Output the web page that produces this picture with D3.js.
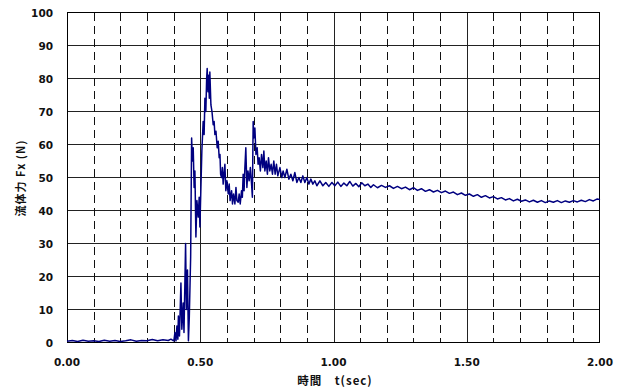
<!DOCTYPE html>
<meta charset="utf-8">
<html>
  <head>
    <style>
      body { margin: 0; background: #fff; }
      text.tick { font-family: "DejaVu Sans", sans-serif; font-size: 10.5px; font-weight: bold; fill: #111; }
      text.title { font-family: "Noto Sans CJK JP", sans-serif; font-weight: bold; fill: #111; letter-spacing: 1px; }
      line.grid { stroke: #222; stroke-width: 1; shape-rendering: crispEdges; }
      line.dash { stroke: #111; stroke-width: 1; stroke-dasharray: 8,5; shape-rendering: crispEdges; }
      path.force { fill: none; stroke: #000080; stroke-width: 1.5; stroke-linejoin: round; }
    </style>
    <script src="https://d3js.org/d3.v7.min.js"></script>
  </head>
  <body>
    <div id="chart"></div>
    <script type="text/javascript">
      // time (sec) and fluid force Fx (N)
      var times = [
        0.00, 0.02, 0.04, 0.06, 0.08, 0.10, 0.12, 0.14, 0.16, 0.18,
        0.20, 0.22, 0.24, 0.26, 0.28, 0.30, 0.32, 0.34, 0.36, 0.38,
        0.39, 0.40, 0.401, 0.405, 0.409, 0.4125, 0.416, 0.418, 0.422, 0.4275,
        0.431, 0.436, 0.439, 0.445, 0.448, 0.452, 0.4556, 0.459, 0.464, 0.4676,
        0.4706, 0.4736, 0.477, 0.48, 0.4837, 0.4875, 0.4924, 0.496, 0.4987, 0.5025,
        0.506, 0.511, 0.5145, 0.5175, 0.521, 0.524, 0.526, 0.529, 0.531, 0.534,
        0.536, 0.54, 0.544, 0.5486, 0.552, 0.555, 0.559, 0.5636, 0.5674, 0.571,
        0.574, 0.5764, 0.58, 0.583, 0.586, 0.589, 0.5925, 0.596, 0.60, 0.605,
        0.6086, 0.612, 0.6176, 0.621, 0.625, 0.63, 0.634, 0.6375, 0.6424, 0.646,
        0.65, 0.655, 0.658, 0.661, 0.6645, 0.6675, 0.671, 0.675, 0.679, 0.6836,
        0.688, 0.6926, 0.6956, 0.6986, 0.701, 0.705, 0.709, 0.7136, 0.717, 0.721,
        0.7256, 0.73, 0.735, 0.7387, 0.7425, 0.7474, 0.752, 0.756, 0.761, 0.766,
        0.771, 0.776, 0.781, 0.786, 0.791, 0.799, 0.806, 0.811, 0.8175, 0.825,
        0.8325, 0.84, 0.8475, 0.855, 0.8625, 0.87, 0.8775, 0.885, 0.8925, 0.90,
        0.9075, 0.915, 0.9225, 0.93, 0.9375, 0.949, 0.96, 0.971, 0.9825, 0.994,
        1.005, 1.016, 1.0275, 1.039, 1.05, 1.061, 1.0725, 1.084, 1.095, 1.106,
        1.1175, 1.129, 1.14, 1.15, 1.165, 1.18, 1.195, 1.21, 1.225, 1.24,
        1.255, 1.27, 1.285, 1.30, 1.315, 1.33, 1.345, 1.36, 1.375, 1.39,
        1.405, 1.42, 1.435, 1.45, 1.465, 1.48, 1.495, 1.51, 1.525, 1.54,
        1.555, 1.57, 1.585, 1.60, 1.615, 1.63, 1.645, 1.66, 1.675, 1.69,
        1.705, 1.72, 1.735, 1.75, 1.765, 1.78, 1.795, 1.81, 1.825, 1.84,
        1.855, 1.87, 1.885, 1.90, 1.915, 1.93, 1.945, 1.96, 1.975, 1.99,
        2.00
      ];
      var forces = [
        0.4, 0.6, 0.3, 0.7, 0.4, 0.5, 0.3, 0.7, 0.4, 0.6,
        0.3, 0.5, 0.8, 0.4, 0.6, 0.5, 0.9, 0.5, 0.8, 0.6,
        1.0, 0.5, 0.5, 3, 0.5, 5, 1, 8, 2, 18,
        4, 12, 3, 30, 10, 22, 0.5, 8, 26, 62,
        55, 59, 47, 52, 32, 43, 38, 44, 35, 47,
        58, 67, 63, 74, 70, 80, 83, 76, 81, 74,
        82, 72, 70, 66, 67, 63, 64, 59, 61, 56,
        57, 51, 50, 53, 48, 51, 54, 46, 49, 45,
        48, 43, 46, 42, 45, 42, 47, 43, 42.5, 45,
        42, 46, 44, 51, 46, 53, 59, 47, 52, 49,
        53, 48, 44, 67, 62, 65, 57, 59, 54, 56,
        52, 57, 53, 58, 52, 55, 51, 56, 52, 54,
        51, 55, 51, 54, 50.5, 53, 50, 52, 50, 52.5,
        49.5, 51, 49, 51.5, 48.5, 50, 48.5, 50.5, 48.5, 50,
        48, 49.5, 48, 49, 47.5, 49, 47.5, 48.5, 47.3, 48.5,
        47.5, 48.6, 47.3, 48.3, 47.5, 48.8, 47.4, 48.2, 47.2, 48.4,
        47.5, 48, 47, 47.8, 46.9, 47.6, 47.0, 47.5, 46.7, 47.3,
        46.6, 47.1, 46.3, 46.9, 46.1, 46.6, 45.8, 46.3, 45.6, 46.1,
        45.4, 45.9, 45.2, 45.6, 44.8, 45.3, 44.6, 45.0, 44.3, 44.8,
        44.0, 44.5, 43.8, 44.2, 43.5, 43.9, 43.2, 43.6, 42.9, 43.4,
        42.8, 43.2, 42.6, 43.1, 42.5, 43.0, 42.4, 42.9, 42.5, 43.0,
        42.4, 42.9, 42.5, 43.0, 42.6, 43.1, 42.7, 43.3, 42.9, 43.5,
        43.3
      ];
      var yTicks = [0, 10, 20, 30, 40, 50, 60, 70, 80, 90, 100];
      var xLabelTicks = [0, 0.5, 1.0, 1.5, 2.0];
      var xGridTicks = [0.1, 0.2, 0.3, 0.4, 0.5, 0.6, 0.7, 0.8, 0.9, 1.0,
                        1.1, 1.2, 1.3, 1.4, 1.5, 1.6, 1.7, 1.8, 1.9];
      var xTitle = "時間　t(sec)",
          yTitle = "流体力 Fx (N)";

      var W = 623, H = 389,
          plotL = 67, plotR = 600, plotT = 12.5, plotB = 342.5;

      var svg = d3.select("#chart").append("svg")
          .attr("width", W)
          .attr("height", H);

      var x = d3.scaleLinear().domain([0, 2]).range([plotL, plotR]);
      var y = d3.scaleLinear().domain([0, 100]).range([plotB, plotT]);
      var px = function(v) { return Math.round(x(v)) + 0.5; };

      // horizontal grid
      svg.selectAll(".hgrid")
          .data(yTicks)
          .enter().append("line")
            .attr("class", "grid")
            .attr("x1", plotL).attr("x2", plotR)
            .attr("y1", function(d) { return y(d); })
            .attr("y2", function(d) { return y(d); });

      // vertical grid: solid at 0.5 steps, dashed otherwise
      svg.selectAll(".vgrid")
          .data(xGridTicks)
          .enter().append("line")
            .attr("class", function(d) { return xLabelTicks.indexOf(d) >= 0 ? "grid" : "dash"; })
            .attr("x1", px).attr("x2", px)
            .attr("y1", plotT).attr("y2", plotB);

      // plot frame
      svg.append("rect")
          .attr("x", px(0)).attr("y", plotT)
          .attr("width", px(2) - px(0) - 1).attr("height", plotB - plotT)
          .style("fill", "none")
          .style("stroke", "#000")
          .style("stroke-width", 1)
          .style("shape-rendering", "crispEdges");

      var line = d3.line()
          .x(function(d, i) { return x(times[i]); })
          .y(function(d) { return y(d); });

      svg.append("path")
          .datum(forces)
          .attr("class", "force")
          .attr("d", line);

      svg.selectAll(".ylab")
          .data(yTicks)
          .enter().append("text")
            .attr("class", "tick")
            .attr("x", 53)
            .attr("y", function(d) { return y(d) + 4; })
            .style("text-anchor", "end")
            .text(function(d) { return d; });

      svg.selectAll(".xlab")
          .data(xLabelTicks)
          .enter().append("text")
            .attr("class", "tick")
            .attr("x", function(d) { return x(d); })
            .attr("y", 365.5)
            .style("text-anchor", "middle")
            .text(function(d) { return d3.format(".2f")(d); });

      svg.append("text")
          .attr("class", "title")
          .attr("x", 335).attr("y", 385)
          .style("font-size", "11.5px")
          .style("text-anchor", "middle")
          .text(xTitle);

      svg.append("text")
          .attr("class", "title")
          .attr("transform", "translate(25,178) rotate(-90)")
          .style("font-size", "11px")
          .style("text-anchor", "middle")
          .text(yTitle);
    </script>
  </body>
</html>
